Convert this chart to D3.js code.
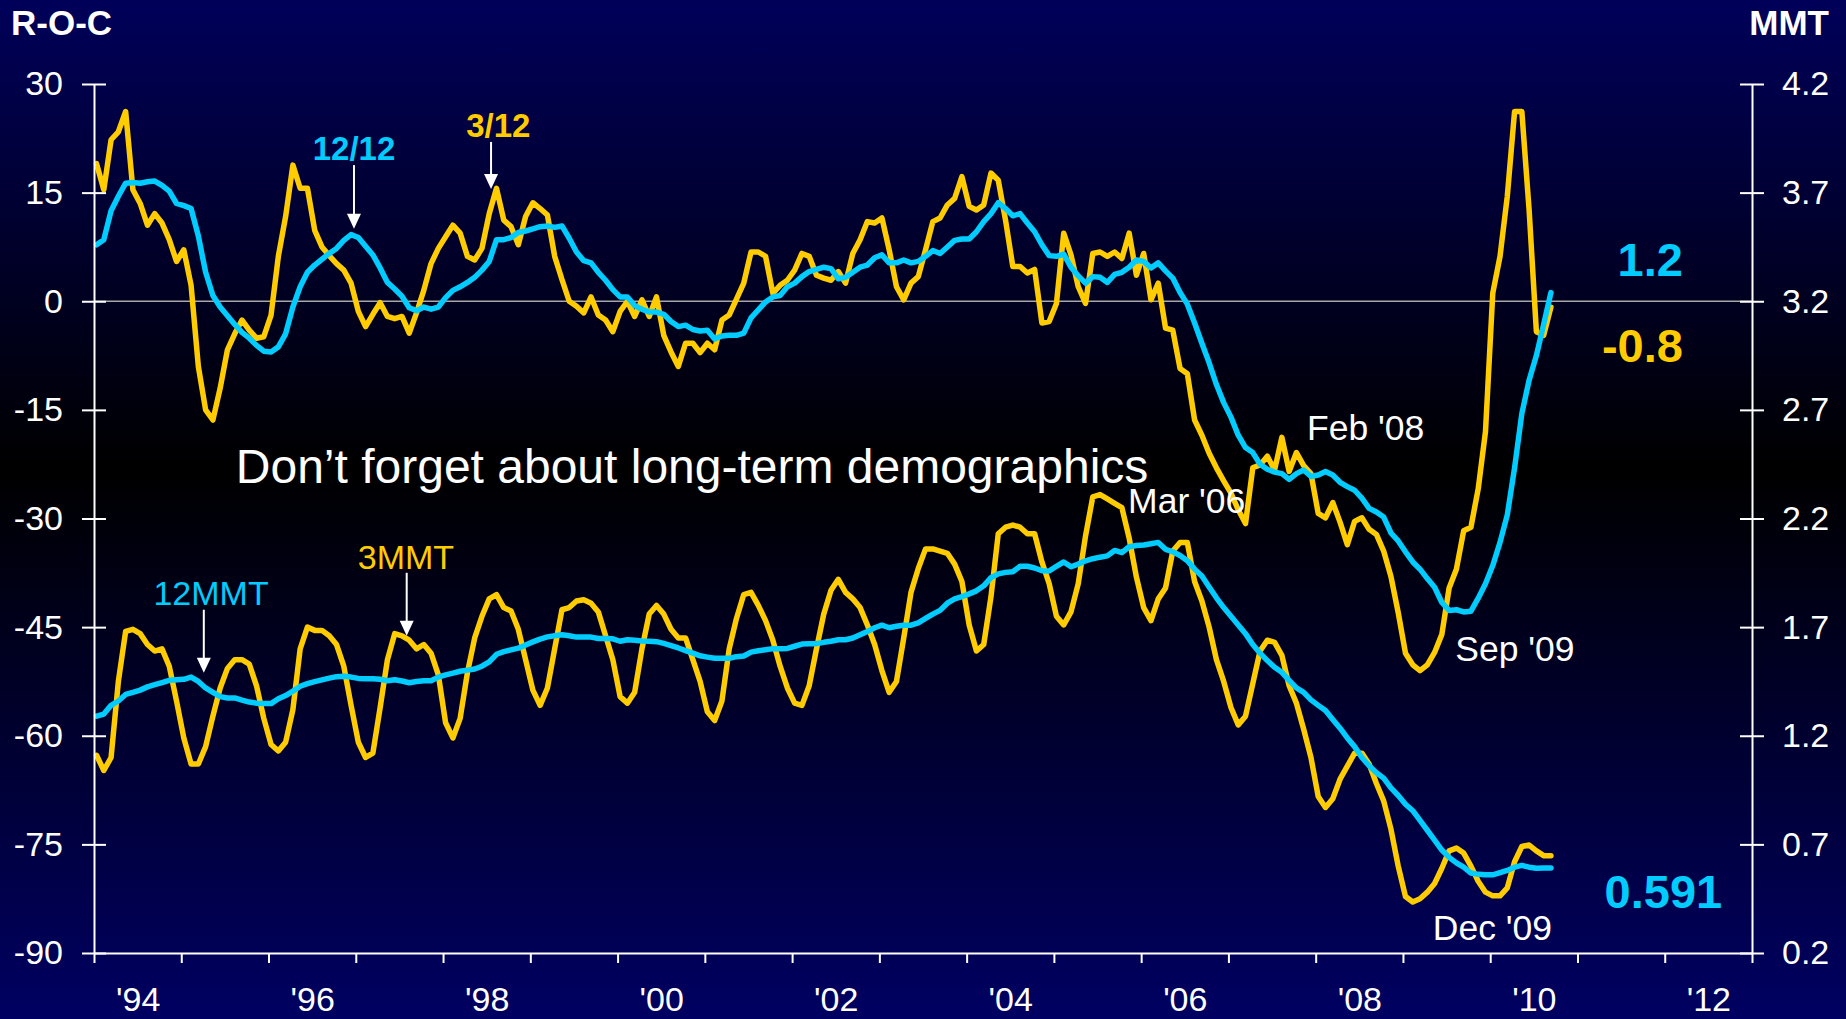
<!DOCTYPE html>
<html>
<head>
<meta charset="utf-8">
<script src="https://cdn.jsdelivr.net/npm/d3@7"></script>
<style>
  html, body { margin: 0; padding: 0; background: #000; }
  svg { display: block; }
  text { font-family: "Liberation Sans", Arial, Helvetica, sans-serif; }
</style>
</head>
<body>
<script>
// monthly values, Jan 1994 .. Sep 2010 (one row per year)
const startYear = 1994;

// rate of change, left axis
const roc3 = [
  19, 15.4, 22.3, 23.4, 26.2, 15.4, 13.5, 10.5, 12.1, 10.8, 8.5, 5.5,
  7.1, 2.2, -9, -15, -16.4, -12, -6.7, -4.5, -2.6, -4, -5.1, -4.9,
  -1.9, 6.2, 11.7, 18.8, 15.6, 15.6, 9.8, 7.5, 6.3, 5.2, 4.3, 2.5,
  -1.4, -3.5, -1.8, -0.2, -2.1, -2.4, -2.1, -4.4, -1.6, 1.5, 5.2, 7.3,
  8.9, 10.5, 9.4, 6.2, 5.7, 7.3, 12.1, 15.6, 11.2, 10.3, 7.8, 11.7,
  13.6, 12.8, 11.9, 6.2, 3, 0, -0.7, -1.6, 0.6, -1.9, -2.6, -4.2,
  -1.4, 0, -2.1, 0.2, -2.1, 0.6, -4.7, -7, -9, -5.8, -5.8, -7.1,
  -5.8, -6.7, -2.6, -1.9, 0.3, 2.5, 6.8, 6.8, 6.2, 1.1, 2.2, 2.9,
  4.3, 6.6, 6.2, 3.6, 3.2, 2.9, 4.1, 2.5, 6.6, 8.5, 11, 10.8,
  11.5, 7.1, 2, 0.2, 2.5, 3.4, 7.1, 11, 11.5, 13.3, 14.2, 17.2,
  13.1, 12.6, 13.3, 17.7, 16.7, 11.2, 4.8, 4.8, 3.9, 4.4, -3, -2.8,
  -0.3, 9.4, 6.4, 2, -0.3, 6.6, 6.8, 6.2, 6.8, 5.9, 9.4, 3.6,
  6.6, 0.2, 2.5, -3.7, -4, -9.3, -10, -16.4, -18.5, -21, -23, -24.8,
  -26.5, -28.8, -30.7, -23, -22.6, -21.4, -23.3, -18.8, -23.5, -20.9, -22.7, -23.8,
  -29.3, -29.9, -27.8, -30.5, -33.6, -30.4, -29.9, -31.5, -32.2, -34.5, -38, -43,
  -48.6, -50.2, -51, -50.2, -48.5, -46, -39.6, -37, -31.7, -31.2, -25.9, -18,
  1.1, 6.2, 14.5, 26.2, 26.2, 12.6, -4.2, -4.7, -0.8
];

const roc12 = [
  7.8, 8.5, 12.5, 14.5, 16.3, 16.4, 16.3, 16.5, 16.6, 16, 15.2, 13.5,
  13.2, 12.8, 9, 4, 0.8, -0.8, -2, -3.2, -4.3, -5.1, -6.1, -6.9,
  -7, -6.3, -4.5, -0.8, 2, 4, 5, 5.8, 6.6, 7.3, 8.4, 9.2,
  8.8, 7.6, 6.4, 4.6, 2.6, 1.7, 0.7, -0.9, -1.3, -0.8, -1.1, -0.8,
  0.5, 1.5, 2, 2.6, 3.3, 4.3, 5.5, 8.5, 8.5, 8.8, 9.5, 9.7,
  10, 10.3, 10.4, 10.2, 10.4, 8.7, 6.8, 5.6, 5.3, 4, 2.9, 1.6,
  0.6, 0.6, -0.6, -1.1, -1.5, -1.5, -1.8, -2.8, -3.5, -3.3, -3.9, -4.1,
  -4, -5.2, -4.8, -4.7, -4.7, -4.4, -2.3, -1.2, -0.1, 0.6, 0.8, 2,
  2.5, 3.4, 4.1, 4.4, 4.7, 4.5, 3.1, 3.3, 4, 4.7, 5, 6,
  6.4, 5.3, 5.3, 5.7, 5.3, 5.5, 6.2, 7, 6.6, 7.5, 8.4, 8.6,
  8.6, 9.6, 11, 12.1, 13.6, 12.8, 11.8, 12.1, 10.8, 9.6, 7.8, 6.3,
  6.2, 6.5, 4.7, 3.5, 2.5, 3.4, 3.3, 2.6, 3.7, 4, 4.7, 5.7,
  5.5, 4.6, 5.3, 4.2, 3.2, 1.2, -0.4, -3, -5.8, -8.5, -11.5, -14,
  -16, -18.5, -20.2, -20.9, -22.5, -23.2, -23.6, -23.8, -24.6, -23.8, -23.3, -24.2,
  -24, -23.5, -24, -25, -25.6, -26.1, -27.2, -28.6, -29.1, -29.8, -32, -33.1,
  -34.6, -36, -37, -38.3, -39.5, -41.6, -42.7, -42.6, -42.9, -42.8, -41, -39,
  -36.5, -33.3, -29.5, -23, -15.5, -10.9, -7.5, -3.2, 1.2
];

// moving totals, right axis (MMT)
const mmt3 = [
  1.11, 1.04, 1.10, 1.45, 1.68, 1.69, 1.67, 1.62, 1.59, 1.6, 1.52, 1.36,
  1.19, 1.07, 1.07, 1.15, 1.29, 1.42, 1.51, 1.55, 1.55, 1.53, 1.43, 1.28,
  1.16, 1.13, 1.17, 1.32, 1.6, 1.7, 1.685, 1.685, 1.66, 1.62, 1.52, 1.34,
  1.17, 1.1, 1.12, 1.33, 1.55, 1.67, 1.66, 1.64, 1.6, 1.62, 1.58, 1.48,
  1.26, 1.19, 1.28, 1.49, 1.65, 1.75, 1.83, 1.85, 1.79, 1.774, 1.69, 1.55,
  1.41, 1.34, 1.42, 1.6, 1.78, 1.79, 1.82, 1.826, 1.81, 1.77, 1.66, 1.55,
  1.38, 1.35, 1.40, 1.6, 1.76, 1.8, 1.76, 1.69, 1.65, 1.65, 1.55, 1.45,
  1.31, 1.27, 1.36, 1.6, 1.74, 1.85, 1.86, 1.8, 1.73, 1.64, 1.52, 1.42,
  1.35, 1.34, 1.43, 1.6, 1.76, 1.87, 1.92, 1.86, 1.83, 1.79, 1.71, 1.62,
  1.5, 1.4, 1.45, 1.65, 1.86, 1.97, 2.06, 2.06, 2.05, 2.04, 1.99, 1.91,
  1.71, 1.59, 1.62, 1.84, 2.13, 2.16, 2.17, 2.16, 2.13, 2.13, 2.0, 1.9,
  1.75, 1.71, 1.77, 1.9, 2.12, 2.3, 2.31, 2.29, 2.27, 2.25, 2.11, 1.93,
  1.79, 1.73, 1.83, 1.88, 2.05, 2.09, 2.09, 1.91, 1.82, 1.70, 1.55, 1.45,
  1.33, 1.25, 1.29, 1.44, 1.59, 1.64, 1.63, 1.57, 1.43, 1.35, 1.23, 1.1,
  0.92, 0.87, 0.91, 1.0, 1.06, 1.12, 1.12, 1.07, 0.98, 0.9, 0.77, 0.6,
  0.46, 0.435, 0.45, 0.48, 0.52, 0.59, 0.67, 0.683, 0.66, 0.6, 0.53, 0.48,
  0.463, 0.463, 0.5, 0.62, 0.69, 0.697, 0.67, 0.648, 0.648
];

const mmt12 = [
  1.29, 1.30, 1.34, 1.36, 1.39, 1.40, 1.41, 1.425, 1.435, 1.445, 1.455, 1.458,
  1.46, 1.47, 1.45, 1.42, 1.40, 1.38, 1.374, 1.374, 1.364, 1.355, 1.35, 1.348,
  1.348, 1.37, 1.385, 1.405, 1.428, 1.44, 1.449, 1.457, 1.465, 1.472, 1.474, 1.47,
  1.464, 1.462, 1.462, 1.46, 1.453, 1.458, 1.452, 1.444, 1.45, 1.453, 1.453, 1.47,
  1.48, 1.488, 1.497, 1.502, 1.507, 1.52, 1.54, 1.575, 1.587, 1.595, 1.603, 1.618,
  1.632, 1.645, 1.655, 1.66, 1.665, 1.66, 1.654, 1.654, 1.654, 1.648, 1.648, 1.646,
  1.635, 1.642, 1.64, 1.636, 1.635, 1.633, 1.625, 1.615, 1.604, 1.592, 1.58, 1.568,
  1.562, 1.557, 1.557, 1.557, 1.564, 1.567, 1.585, 1.591, 1.596, 1.601, 1.601, 1.602,
  1.612, 1.622, 1.624, 1.624, 1.63, 1.635, 1.642, 1.642, 1.65, 1.665, 1.68, 1.697,
  1.709, 1.697, 1.704, 1.709, 1.709, 1.72, 1.74, 1.76, 1.777, 1.81, 1.83, 1.84,
  1.853, 1.867, 1.89, 1.928, 1.945, 1.952, 1.955, 1.98, 1.98, 1.972, 1.96, 1.958,
  1.98, 2.0, 1.978, 1.99, 2.005, 2.015, 2.022, 2.028, 2.053, 2.043, 2.07, 2.076,
  2.078, 2.084, 2.09, 2.058, 2.047, 2.03, 2.006, 1.967, 1.935, 1.885, 1.835, 1.79,
  1.75, 1.71, 1.67, 1.62, 1.58, 1.546, 1.515, 1.492, 1.455, 1.42, 1.40, 1.365,
  1.34, 1.316, 1.275, 1.235, 1.19, 1.15, 1.10, 1.062, 1.03, 1.005, 0.96, 0.925,
  0.885, 0.855, 0.81, 0.765, 0.72, 0.674, 0.64, 0.615, 0.595, 0.568, 0.562, 0.56,
  0.56, 0.57, 0.58, 0.595, 0.603, 0.595, 0.59, 0.591, 0.591
];

const leftTicks = [30, 15, 0, -15, -30, -45, -60, -75, -90];
const rightTicks = [4.2, 3.7, 3.2, 2.7, 2.2, 1.7, 1.2, 0.7, 0.2];
const yearLabels = [1994, 1996, 1998, 2000, 2002, 2004, 2006, 2008, 2010, 2012];

const yellow = '#ffcc00';
const cyan = '#00ccff';

const svgWidth = 1846;
const svgHeight = 1019;
const margin = { top: 84, right: 94, bottom: 66, left: 94 };
const width = svgWidth - margin.left - margin.right;
const height = svgHeight - margin.top - margin.bottom;

const svg = d3.select('body').append('svg')
  .attr('width', svgWidth)
  .attr('height', svgHeight);

// background: navy -> black -> navy
const grad = svg.append('defs').append('linearGradient')
  .attr('id', 'bg')
  .attr('x1', 0).attr('y1', 0).attr('x2', 0).attr('y2', 1);
grad.append('stop').attr('offset', '0%').attr('stop-color', '#00005a');
grad.append('stop').attr('offset', '46%').attr('stop-color', '#000000');
grad.append('stop').attr('offset', '100%').attr('stop-color', '#000062');

svg.append('rect')
  .attr('width', svgWidth)
  .attr('height', svgHeight)
  .attr('fill', 'url(#bg)');

const g = svg.append('g')
  .attr('transform', `translate(${margin.left}, ${margin.top})`);

// x is in months since Jan 1994, axis runs to Jan 2013
const x = d3.scaleLinear()
  .domain([0, 19 * 12])
  .range([0, width]);

const yLeft = d3.scaleLinear()
  .domain([-90, 30])
  .range([height, 0]);

const yRight = d3.scaleLinear()
  .domain([0.2, 4.2])
  .range([height, 0]);

// points sit inside their month
const monthPos = i => x(i + 0.35);

// zero line
g.append('line')
  .attr('x1', 0)
  .attr('x2', width)
  .attr('y1', yLeft(0))
  .attr('y2', yLeft(0))
  .attr('stroke', '#a8a8a8')
  .attr('stroke-width', 1.5);

const drawSeries = (values, y, color) => {
  const line = d3.line()
    .x((d, i) => monthPos(i))
    .y(d => y(d));
  g.append('path')
    .datum(values)
    .attr('d', line)
    .attr('fill', 'none')
    .attr('stroke', color)
    .attr('stroke-width', 5.5)
    .attr('stroke-linejoin', 'round')
    .attr('stroke-linecap', 'round');
};

drawSeries(roc3, yLeft, yellow);
drawSeries(mmt3, yRight, yellow);
drawSeries(roc12, yLeft, cyan);
drawSeries(mmt12, yRight, cyan);

const styleAxis = sel => {
  sel.attr('font-size', 34)
    .attr('font-family', '"Liberation Sans", Arial, sans-serif');
  sel.selectAll('.domain').attr('stroke', '#fff').attr('stroke-width', 2);
  sel.selectAll('.tick line').attr('stroke', '#fff').attr('stroke-width', 2);
  sel.selectAll('.tick text').attr('fill', '#fff');
};

// left axis, ticks cross the line
g.append('g')
  .call(d3.axisLeft(yLeft)
    .tickValues(leftTicks)
    .tickSize(12)
    .tickSizeOuter(0)
    .tickPadding(19)
    .tickFormat(d => String(d)))
  .call(styleAxis)
  .call(a => a.selectAll('.tick line').attr('x1', 12));

// right axis
g.append('g')
  .attr('transform', `translate(${width}, 0)`)
  .call(d3.axisRight(yRight)
    .tickValues(rightTicks)
    .tickSize(12)
    .tickSizeOuter(0)
    .tickPadding(18)
    .tickFormat(d3.format('.1f')))
  .call(styleAxis)
  .call(a => a.selectAll('.tick line').attr('x1', -12));

// bottom axis: a tick at every year boundary
g.append('g')
  .attr('transform', `translate(0, ${height})`)
  .call(d3.axisBottom(x)
    .tickValues(d3.range(0, 19 * 12 + 1, 12))
    .tickSize(10)
    .tickSizeOuter(0)
    .tickFormat(''))
  .call(styleAxis);

// year labels centred in their year
g.append('g')
  .attr('transform', `translate(0, ${height})`)
  .call(d3.axisBottom(x)
    .tickValues(yearLabels.map(yr => (yr - startYear) * 12 + 6))
    .tickSize(0)
    .tickPadding(34)
    .tickFormat(m => "'" + String(startYear + Math.floor(m / 12)).slice(2)))
  .call(styleAxis)
  .call(a => a.select('.domain').remove());

// axis titles
svg.append('text')
  .attr('x', 11)
  .attr('y', 35)
  .attr('fill', '#fff')
  .attr('font-size', 35)
  .attr('font-weight', 'bold')
  .text('R-O-C');

svg.append('text')
  .attr('x', 1829)
  .attr('y', 35)
  .attr('text-anchor', 'end')
  .attr('font-size', 35)
  .attr('font-weight', 'bold')
  .attr('fill', '#fff')
  .text('MMT');

// annotations, placed in (month, left-axis value) space
const notes = [
  { text: '12/12', m: 35.75, v: 19.5, anchor: 'middle', color: cyan, size: 33, bold: true },
  { text: '3/12', m: 55.6, v: 22.7, anchor: 'middle', color: yellow, size: 33, bold: true },
  { text: '12MMT', m: 16.1, v: -41.9, anchor: 'middle', color: cyan, size: 34 },
  { text: '3MMT', m: 42.9, v: -37, anchor: 'middle', color: yellow, size: 34 },
  { text: 'Don\u2019t forget about long-term demographics', m: 19.5, v: -25.1, anchor: 'start', color: '#fff', size: 48 },
  { text: "Mar '06", m: 142.2, v: -29.3, anchor: 'start', color: '#fff', size: 35.5 },
  { text: "Feb '08", m: 166.8, v: -19.1, anchor: 'start', color: '#fff', size: 35.5 },
  { text: "Sep '09", m: 187.2, v: -49.7, anchor: 'start', color: '#fff', size: 35.5 },
  { text: "Dec '09", m: 184.1, v: -88.2, anchor: 'start', color: '#fff', size: 35.5 },
  { text: '1.2', m: 218.5, v: 3.5, anchor: 'end', color: cyan, size: 47, bold: true },
  { text: '-0.8', m: 218.5, v: -8.4, anchor: 'end', color: yellow, size: 47, bold: true },
  { text: '0.591', m: 223.9, v: -83.8, anchor: 'end', color: cyan, size: 47, bold: true }
];

g.selectAll('.note')
  .data(notes)
  .enter()
  .append('text')
  .attr('class', 'note')
  .attr('x', d => x(d.m))
  .attr('y', d => yLeft(d.v))
  .attr('text-anchor', d => d.anchor)
  .attr('font-size', d => d.size)
  .attr('font-weight', d => d.bold ? 'bold' : 'normal')
  .attr('fill', d => d.color)
  .text(d => d.text);

// arrows pointing at the series
const arrows = [
  { m: 35.75, from: 18.8, to: 10.0 },
  { m: 54.6, from: 22.0, to: 15.5 },
  { m: 15.1, from: -42.6, to: -51.3 },
  { m: 43.0, from: -37.5, to: -46.2 }
];

arrows.forEach(a => {
  const ax = x(a.m);
  const y0 = yLeft(a.from);
  const y1 = yLeft(a.to);
  g.append('line')
    .attr('x1', ax).attr('x2', ax)
    .attr('y1', y0).attr('y2', y1 - 12)
    .attr('stroke', '#fff')
    .attr('stroke-width', 2);
  g.append('path')
    .attr('d', `M${ax - 7},${y1 - 15}L${ax + 7},${y1 - 15}L${ax},${y1}Z`)
    .attr('fill', '#fff');
});
</script>
</body>
</html>
